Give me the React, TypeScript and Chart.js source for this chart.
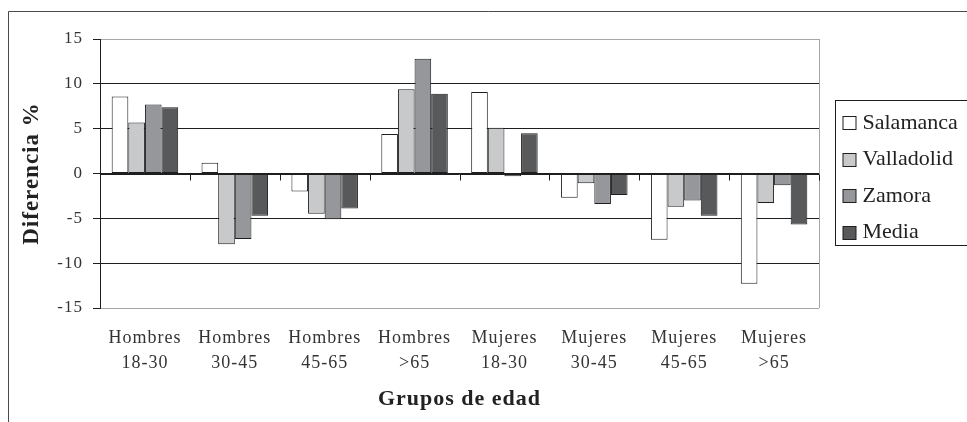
import React, { useEffect, useRef } from "react";
import { Chart, registerables } from "chart.js";

Chart.register(...registerables);

const categories: string[][] = [
  ["Hombres", "18-30"],
  ["Hombres", "30-45"],
  ["Hombres", "45-65"],
  ["Hombres", ">65"],
  ["Mujeres", "18-30"],
  ["Mujeres", "30-45"],
  ["Mujeres", "45-65"],
  ["Mujeres", ">65"],
];
const seriesNames = ["Salamanca", "Valladolid", "Zamora", "Media"];
const salamanca = [8.6, 1.2, -2.0, 4.4, 9.1, -2.7, -7.4, -12.3];
const valladolid = [5.7, -7.9, -4.5, 9.4, 5.1, -1.1, -3.7, -3.3];
const zamora = [7.7, -7.3, -5.1, 12.8, -0.3, -3.4, -3.0, -1.3];
const media = [7.4, -4.7, -3.9, 8.9, 4.5, -2.4, -4.7, -5.7];
const yTicks = [-15, -10, -5, 0, 5, 10, 15];
const seriesColors = ["#ffffff", "#c8c9cb", "#96979a", "#58595b"];

const FAMILY = "'Liberation Serif', 'Times New Roman', serif";
const INK = "#1e1e1e";

const decorPlugin = {
  id: "decor",
  beforeDraw(chart: any) {
    chart.ctx.letterSpacing = "1px";
  },
  beforeDatasetsDraw(chart: any) {
    chart.ctx.letterSpacing = "0px";
  },
  afterDatasetsDraw(chart: any) {
    const ctx = chart.ctx;
    const { left, right, top, bottom } = chart.chartArea;
    const x = chart.scales.x;
    const y = chart.scales.y;
    const y0 = Math.round(y.getPixelForValue(0)) + 0.5;
    ctx.save();
    ctx.lineWidth = 1;
    // right plot border
    ctx.strokeStyle = "#a6a6a6";
    ctx.beginPath();
    ctx.moveTo(Math.round(right) + 0.5, top);
    ctx.lineTo(Math.round(right) + 0.5, bottom);
    ctx.stroke();
    // category axis at zero with tick marks at boundaries
    ctx.strokeStyle = INK;
    ctx.beginPath();
    ctx.moveTo(left, y0);
    ctx.lineTo(right, y0);
    const p0 = x.getPixelForValue(0);
    const p1 = x.getPixelForValue(1);
    const half = (p1 - p0) / 2;
    for (let i = 0; i <= categories.length; i++) {
      const bx = Math.round(x.getPixelForValue(i) - half) + 0.5;
      ctx.moveTo(bx, y0);
      ctx.lineTo(bx, y0 + 6);
    }
    ctx.stroke();
    ctx.restore();
  },
  afterDraw(chart: any) {
    const ctx = chart.ctx;
    const { right } = chart.chartArea;
    ctx.save();
    ctx.letterSpacing = "0px";
    // outer frame
    ctx.strokeStyle = "#4a4a4a";
    ctx.lineWidth = 1;
    ctx.beginPath();
    ctx.moveTo(8.5, chart.height + 5);
    ctx.lineTo(8.5, 11.5);
    ctx.lineTo(chart.width + 5, 11.5);
    ctx.stroke();
    // legend
    const bx = Math.round(right) + 16.5;
    const by = 100.5;
    ctx.strokeStyle = INK;
    ctx.strokeRect(bx, by, 150, 145);
    ctx.font = `22px ${FAMILY}`;
    ctx.textBaseline = "middle";
    ctx.textAlign = "left";
    chart.data.datasets.forEach((ds: any, i: number) => {
      const cy = 122 + i * 36.5;
      ctx.fillStyle = ds.backgroundColor;
      ctx.fillRect(bx + 7.5, Math.round(cy - 6) + 0.5, 13, 13);
      ctx.strokeStyle = INK;
      ctx.strokeRect(bx + 7.5, Math.round(cy - 6) + 0.5, 13, 13);
      ctx.fillStyle = "#222";
      ctx.fillText(ds.label, bx + 27, cy + 1);
    });
    ctx.restore();
  },
};

export default function App() {
  const ref = useRef<HTMLCanvasElement | null>(null);

  useEffect(() => {
    if (!ref.current) return;
    const values = [salamanca, valladolid, zamora, media];
    const chart = new Chart(ref.current, {
      type: "bar",
      data: {
        labels: categories,
        datasets: seriesNames.map((name, i) => ({
          label: name,
          data: values[i],
          backgroundColor: seriesColors[i],
          borderColor: INK,
          borderWidth: 1,
          borderSkipped: false,
        })),
      },
      options: {
        responsive: false,
        animation: false,
        devicePixelRatio: 1,
        layout: { padding: { top: 39, right: 148, left: 0, bottom: 0 } },
        datasets: { bar: { categoryPercentage: 0.74, barPercentage: 1 } },
        plugins: { legend: { display: false }, tooltip: { enabled: false } },
        scales: {
          x: {
            type: "category",
            offset: true,
            grid: { display: false, drawTicks: false, tickLength: 0 },
            border: { display: false },
            ticks: {
              color: "#333",
              font: { family: FAMILY, size: 18, lineHeight: 1.43 },
              padding: 17,
              maxRotation: 0,
              minRotation: 0,
              autoSkip: false,
            },
            title: {
              display: true,
              text: "Grupos de edad",
              color: "#222",
              font: { family: FAMILY, size: 22, weight: "bold", lineHeight: 1.2 },
              padding: { top: 0, bottom: 9 },
            },
            afterFit: (s: any) => {
              s.height = 114;
            },
          },
          y: {
            type: "linear",
            min: -15,
            max: 15,
            afterBuildTicks: (s: any) => {
              s.ticks = yTicks.map((v) => ({ value: v }));
            },
            grid: {
              color: (c: any) =>
                c.tick && Math.abs(c.tick.value) === 15 ? "#a6a6a6" : INK,
              tickColor: INK,
              tickLength: 7,
              lineWidth: 1,
            },
            border: { display: true, color: INK, width: 1 },
            ticks: {
              color: "#333",
              font: { family: FAMILY, size: 17 },
              padding: 10,
              callback: (v: any) => String(v),
            },
            title: {
              display: true,
              text: "Diferencia %",
              color: "#222",
              font: { family: FAMILY, size: 23, weight: "bold", lineHeight: 1.2 },
              padding: { top: 18, bottom: 0 },
            },
            afterFit: (s: any) => {
              s.width = 100;
            },
          },
        },
      },
      plugins: [decorPlugin],
    } as any);
    return () => chart.destroy();
  }, []);

  return (
    <div style={{ position: "absolute", left: 0, top: 0, width: 967, height: 422, overflow: "hidden" }}>
      <canvas ref={ref} width={967} height={422} style={{ display: "block" }} />
    </div>
  );
}
